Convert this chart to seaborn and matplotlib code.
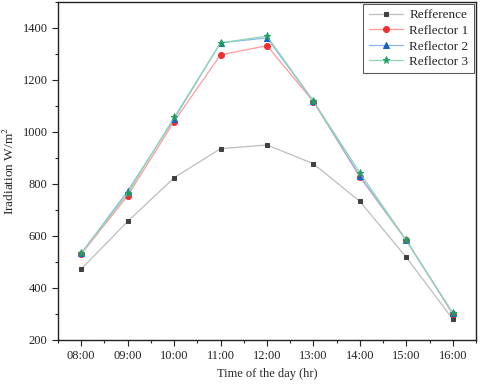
import matplotlib
matplotlib.use("Agg")
import matplotlib.pyplot as plt
import seaborn as sns
import pandas as pd
from matplotlib.ticker import MultipleLocator

times = ["08:00", "09:00", "10:00", "11:00", "12:00", "13:00", "14:00", "15:00", "16:00"]
refference = [473, 656, 824, 936, 950, 878, 733, 518, 280]
reflector1 = [530, 755, 1040, 1297, 1332, 1117, 826, 583, 300]
reflector2 = [533, 773, 1050, 1343, 1362, 1118, 831, 583, 303]
reflector3 = [533, 764, 1056, 1343, 1369, 1119, 843, 583, 303]

series_names = ["Refference", "Reflector 1", "Reflector 2", "Reflector 3"]
series_vals = [refference, reflector1, reflector2, reflector3]

sns.set_theme(style="ticks")
plt.rcParams["font.family"] = ["Liberation Serif", "DejaVu Serif"]
plt.rcParams["mathtext.fontset"] = "stix"

rows = []
for name, vals in zip(series_names, series_vals):
    for i, (t, v) in enumerate(zip(times, vals)):
        rows.append({"idx": i, "time": t, "value": v, "series": name})
df = pd.DataFrame(rows)

fig = plt.figure(figsize=(4.8, 3.87), dpi=100)
ax = fig.add_axes([58/480, 1 - 340/387, (476-58)/480, (340-2)/387])

line_colors = ["#bdbdbd", "#ff9a9a", "#8fb4f0", "#8fd8b0"]
mark_colors = ["#404040", "#f03030", "#1a5fd0", "#20a060"]
markers = ["s", "o", "^", "*"]
msizes = [3.5, 4.3, 4.3, 5.2]

for name, lc, mc, mk, ms in zip(series_names, line_colors, mark_colors, markers, msizes):
    sub = df[df["series"] == name]
    sns.lineplot(data=sub, x="idx", y="value", ax=ax, color=lc, linewidth=0.9,
                 marker=mk, markersize=ms, markerfacecolor=mc, markeredgecolor=mc,
                 label=name)

ax.set_xlim(-0.5, 8.5)
ax.set_ylim(200, 1500)
ax.set_xticks(range(len(times)))
ax.set_xticklabels(times)
ax.xaxis.set_minor_locator(MultipleLocator(0.5))
ax.yaxis.set_major_locator(MultipleLocator(200))
ax.yaxis.set_minor_locator(MultipleLocator(100))
ax.tick_params(axis="both", which="major", direction="out", length=4, width=0.8,
               labelsize=9, colors="#222222")
ax.tick_params(axis="both", which="minor", direction="out", length=2.2, width=0.8)
ax.set_xlabel("Time of the day (hr)", fontsize=9)
ax.set_ylabel("Iradiation W/m$^2$", fontsize=9.5)
for s in ax.spines.values():
    s.set_linewidth(1.0)
    s.set_color("#222222")

leg = ax.legend(loc="upper right", fontsize=9.5, frameon=True, fancybox=False,
                borderpad=0.4, handlelength=2.6, handletextpad=0.5,
                labelspacing=0.25, borderaxespad=0.15)
leg.get_frame().set_edgecolor("#333333")
leg.get_frame().set_linewidth(0.8)

fig.savefig("out.png", dpi=100)
